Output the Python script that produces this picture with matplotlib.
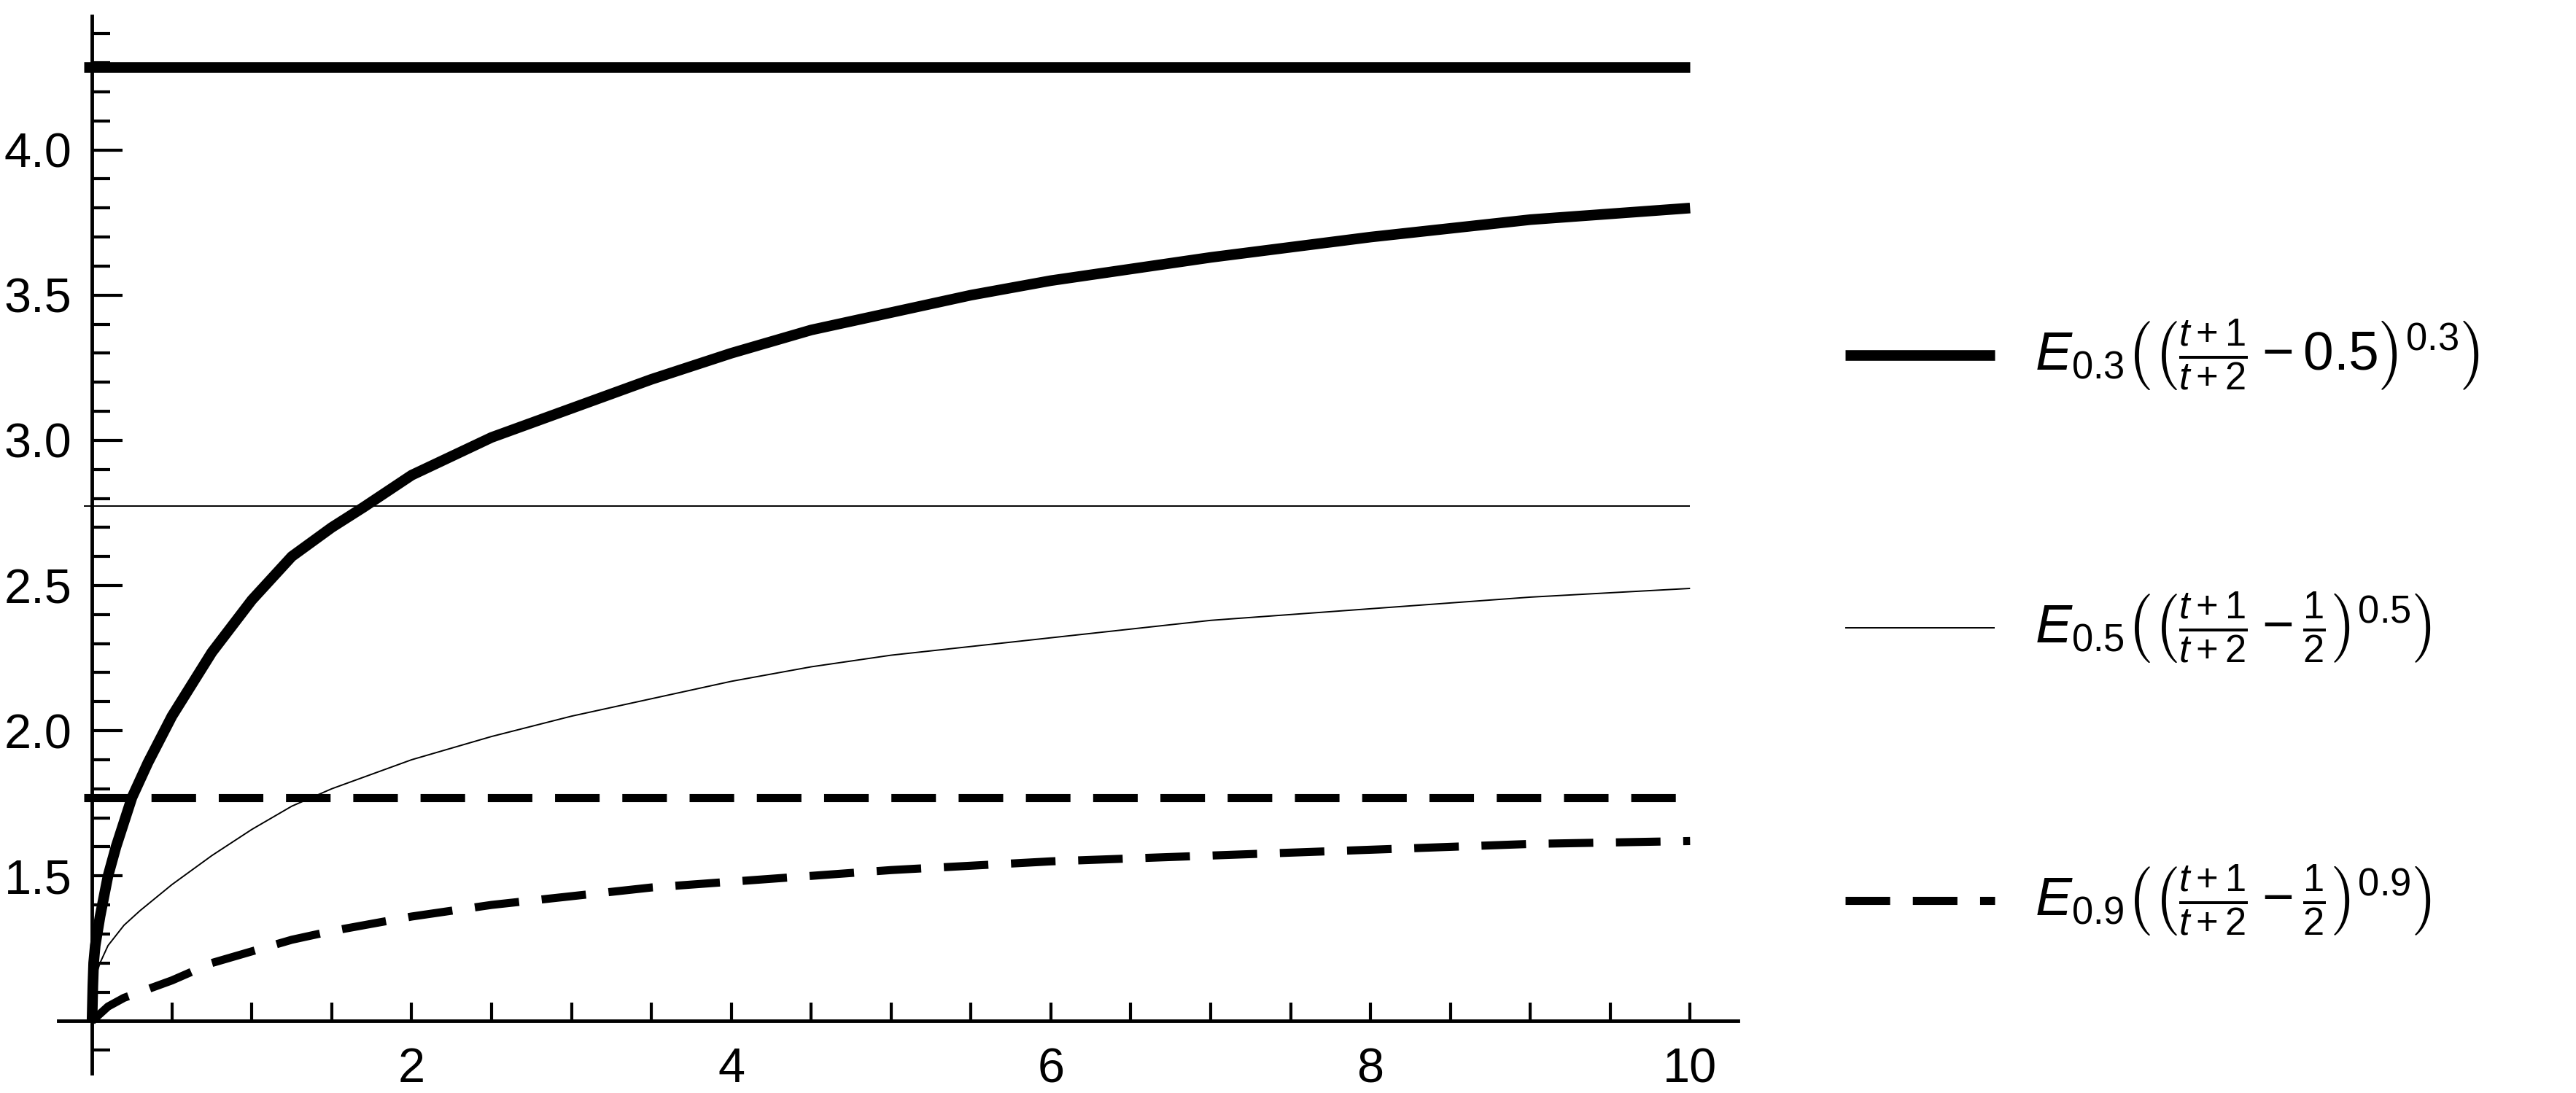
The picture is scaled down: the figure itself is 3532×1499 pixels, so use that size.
import matplotlib
matplotlib.use('Agg')
import matplotlib.pyplot as plt
from matplotlib.lines import Line2D
from matplotlib.ticker import MultipleLocator, FixedLocator

plt.rcParams['font.family'] = ['Liberation Sans', 'DejaVu Sans']
plt.rcParams['mathtext.fontset'] = 'custom'
plt.rcParams['mathtext.rm'] = 'Liberation Sans'
plt.rcParams['mathtext.it'] = 'Liberation Sans:italic'

# ── data ──
t_03 = [0, 0.005, 0.01, 0.02, 0.05, 0.1, 0.15, 0.25, 0.35, 0.5, 0.75, 1, 1.25, 1.5, 1.7, 2,
        2.5, 3, 3.5, 4, 4.5, 5, 5.5, 6, 7, 8, 9, 10]
y_03 = [1.0, 1.12, 1.2, 1.26, 1.36, 1.5, 1.6, 1.77, 1.89, 2.05, 2.27, 2.45, 2.6, 2.7, 2.77, 2.88,
        3.01, 3.11, 3.21, 3.3, 3.38, 3.44, 3.5, 3.55, 3.63, 3.7, 3.76, 3.8]
t_05 = [0, 0.02, 0.05, 0.1, 0.2, 0.3, 0.5, 0.75, 1, 1.25, 1.5, 2, 2.5, 3, 3.5, 4, 4.5, 5, 5.5,
        6, 7, 8, 9, 10]
y_05 = [1.08, 1.15, 1.2, 1.26, 1.33, 1.38, 1.47, 1.57, 1.66, 1.74, 1.8, 1.9, 1.98, 2.05, 2.11,
        2.17, 2.22, 2.26, 2.29, 2.32, 2.38, 2.42, 2.46, 2.49]
t_09 = [0, 0.1, 0.2, 0.5, 0.75, 1, 1.25, 1.5, 2, 2.5, 3, 3.5, 4, 5, 6, 7, 8, 9, 10]
y_09 = [1.0, 1.05, 1.08, 1.14, 1.2, 1.24, 1.28, 1.31, 1.36, 1.4, 1.43, 1.46, 1.48, 1.52, 1.55,
        1.57, 1.59, 1.61, 1.62]
limits = [4.285, 2.773, 1.77]   # horizontal asymptote lines for 0.3, 0.5, 0.9
labels = [
    r'$E_{0.3}\left(\left(\frac{t+1}{t+2}-0.5\right)^{0.3}\right)$',
    r'$E_{0.5}\left(\left(\frac{t+1}{t+2}-\frac{1}{2}\right)^{0.5}\right)$',
    r'$E_{0.9}\left(\left(\frac{t+1}{t+2}-\frac{1}{2}\right)^{0.9}\right)$',
]

styles = [
    dict(color='black', lw=10.5, ls='-'),
    dict(color='black', lw=1.4, ls='-'),
    dict(color='black', lw=8, ls=(0, (5.5, 2.8))),
]

fig = plt.figure(figsize=(35.32, 14.99), dpi=100)
ax = fig.add_axes([0.0227, 0.018, 0.652, 0.967])
ax.set_xlim(-0.21, 10.3)
ax.set_ylim(0.82, 4.46)

for tt, yy, lim, st in zip([t_03, t_05, t_09], [y_03, y_05, y_09], limits, styles):
    ax.plot(tt, yy, solid_capstyle='butt', dash_capstyle='butt', solid_joinstyle='round', **st)
    ax.plot([-0.05, 10], [lim, lim], solid_capstyle='butt', dash_capstyle='butt', **st)

for s in ['top', 'right']:
    ax.spines[s].set_visible(False)
ax.spines['left'].set_position(('data', 0))
ax.spines['bottom'].set_position(('data', 1))
for s in ['left', 'bottom']:
    ax.spines[s].set_linewidth(3.5)

ax.xaxis.set_major_locator(FixedLocator([2, 4, 6, 8, 10]))
ax.xaxis.set_minor_locator(MultipleLocator(0.5))
ax.yaxis.set_major_locator(FixedLocator([1.5, 2.0, 2.5, 3.0, 3.5, 4.0]))
ax.yaxis.set_minor_locator(MultipleLocator(0.1))
ax.yaxis.set_major_formatter(matplotlib.ticker.FormatStrFormatter('%.1f'))
ax.tick_params(axis='both', which='both', direction='in', width=3, labelsize=48)
ax.tick_params(axis='y', which='major', length=30, pad=20)
ax.tick_params(axis='y', which='minor', length=18)
ax.tick_params(axis='x', which='major', length=18, pad=26)
ax.tick_params(axis='x', which='minor', length=18)

# legend drawn by hand to the right
rows_y = [1 - 487 / 1499, 1 - 861 / 1499, 1 - 1235 / 1499]
x0, x1 = 2530 / 3532, 2735 / 3532
for yy, lab, st in zip(rows_y, labels, styles):
    fig.add_artist(Line2D([x0, x1], [yy, yy], transform=fig.transFigure,
                          color=st['color'], lw=st['lw'], ls=st['ls'],
                          solid_capstyle='butt', dash_capstyle='butt'))
    fig.text(2790 / 3532, yy, lab, fontsize=54, va='center', ha='left')

fig.savefig('out.png', dpi=100, facecolor='white')
